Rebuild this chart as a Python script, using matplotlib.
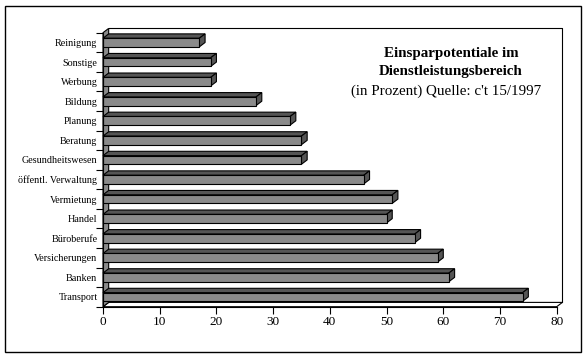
import matplotlib.pyplot as plt
from matplotlib.patches import Polygon, Rectangle

# categories top to bottom as in the chart
categories = ["Reinigung", "Sonstige", "Werbung", "Bildung", "Planung", "Beratung",
              "Gesundheitswesen", "öffentl. Verwaltung", "Vermietung", "Handel",
              "Büroberufe", "Versicherungen", "Banken", "Transport"]
values = [17, 19, 19, 27, 33, 35, 35, 46, 51, 50, 55, 59, 61, 74]
x_ticks = [0, 10, 20, 30, 40, 50, 60, 70, 80]
title_lines = ["Einsparpotentiale im", "Dienstleistungsbereich"]
subtitle = "(in Prozent) Quelle: c't 15/1997"

front_col = "#8a8a8a"
dark_col = "#555555"
dx, dy = 1.0, 0.22   # 3d depth in data units
bh = 0.44            # bar height
n = len(categories)
xmax = x_ticks[-1]

plt.rcParams['font.family'] = ['Liberation Serif', 'DejaVu Serif']

fig = plt.figure(figsize=(5.86, 3.58), dpi=100)
ax = fig.add_axes([103 / 586, 51.3 / 358, 453.7 / 586, 274 / 358])
ax.set_xlim(0, xmax)
ax.set_ylim(-0.5, n - 0.5)

# back wall outline
ax.plot([dx, xmax + dx, xmax + dx], [n - 0.5 + dy, n - 0.5 + dy, -0.5 + dy],
        color="black", lw=0.8, clip_on=False, zorder=1)
# floor
ax.add_patch(Polygon([(0, -0.5), (xmax, -0.5), (xmax + dx, -0.5 + dy), (dx, -0.5 + dy)],
                     closed=True, facecolor="white", edgecolor="black", lw=0.8,
                     clip_on=False, zorder=1))
# left wall
ax.add_patch(Polygon([(0, -0.5), (dx, -0.5 + dy), (dx, n - 0.5 + dy), (0, n - 0.5)],
                     closed=True, facecolor=front_col, edgecolor="black", lw=0.8,
                     clip_on=False, zorder=2))

# bars, bottom category at y=0
ypos = list(range(n - 1, -1, -1))
for y, v in zip(ypos, values):
    lo, hi = y - bh / 2, y + bh / 2
    ax.add_patch(Polygon([(0, hi), (v, hi), (v + dx, hi + dy), (dx, hi + dy)],
                         closed=True, facecolor=dark_col, edgecolor="black", lw=0.8,
                         clip_on=False, zorder=3))
    ax.add_patch(Polygon([(v, lo), (v + dx, lo + dy), (v + dx, hi + dy), (v, hi)],
                         closed=True, facecolor=dark_col, edgecolor="black", lw=0.8,
                         clip_on=False, zorder=3))
    ax.add_patch(Rectangle((0, lo), v, bh, facecolor=front_col, edgecolor="black",
                           lw=0.8, clip_on=False, zorder=4))

for s in ["top", "right"]:
    ax.spines[s].set_visible(False)
for s in ["left", "bottom"]:
    ax.spines[s].set_linewidth(0.8)
    ax.spines[s].set_zorder(5)

ax.set_xticks(x_ticks)
ax.set_xticklabels([str(t) for t in x_ticks], fontsize=9.5)
ax.tick_params(axis="x", direction="out", length=5, width=0.8, pad=2)

ax.set_yticks(ypos)
ax.set_yticklabels(categories, fontsize=7.3)
ax.tick_params(axis="y", which="major", length=0, pad=4)
ax.set_yticks([i - 0.5 for i in range(n + 1)], minor=True)
ax.tick_params(axis="y", which="minor", direction="out", length=5, width=0.8)

fig.text(451 / 586, 1 - 53 / 358, title_lines[0], ha="center", va="center",
         fontsize=10.8, fontweight="bold")
fig.text(451 / 586, 1 - 72 / 358, title_lines[1], ha="center", va="center",
         fontsize=10.8, fontweight="bold")
fig.text(446 / 586, 1 - 91 / 358, subtitle, ha="center", va="center", fontsize=10.8)

# outer frame
fig.patches.append(Rectangle((5 / 586, 6 / 358), 576 / 586, 346 / 358,
                             transform=fig.transFigure, fill=False,
                             edgecolor="black", lw=1))

fig.savefig("out.png", dpi=100)
